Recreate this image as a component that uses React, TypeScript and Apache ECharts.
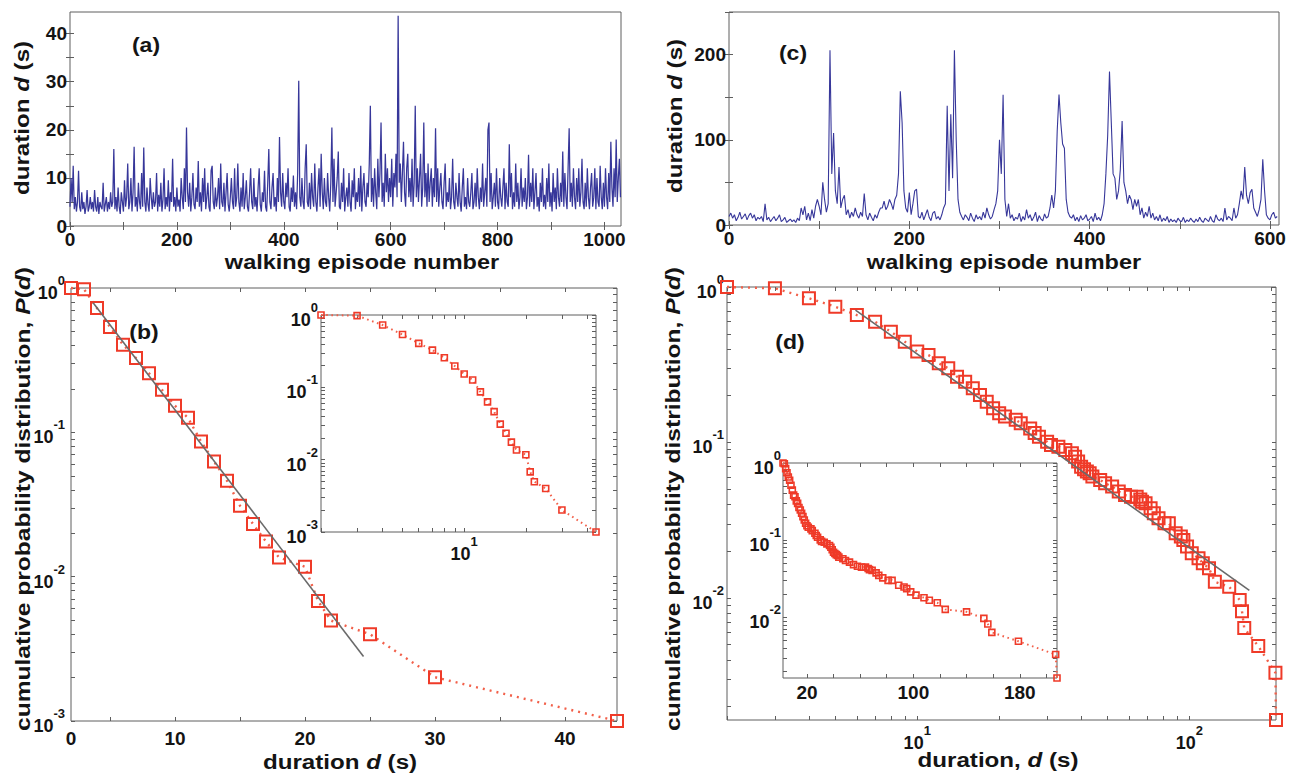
import React, { useEffect, useRef } from "react";
import * as echarts from "echarts";

// ---------------- data ----------------
// (a) durations of walking episodes, one stored sample every A_STEP episodes
const A_STEP = 2;
const A_DURATION = [
  4,10,5,12.5,3.5,6,3,5,11.5,4,3,7,3.5,5,2.5,4,7.5,3,4,6,
  3.5,5,3,7.5,4,3,6,2.5,5,4,3.5,9,3,4.5,6,3,5,3.5,7,4,
  5,16,3.5,6,3,8,4,2.5,7,5,3,9.5,4,6,13,3.5,5,10,3,7,
  16.5,4,6,3,9,5,3.5,11,4,16.3,5,3,8,4.5,3,10,6,3.5,7,4,
  5,11,3,6.5,4,9,3,5.5,12,3.5,6,4,9.5,3,7,5,14,4,6,3,
  8,4,5.5,3,10,6,3.5,12,5,20.5,7,4,9,3,6,11,4.5,3.5,8,5,
  13.5,4,7,3,10,5,12,3.5,6,9,4,3,11.5,12.5,5,3.5,8,4,6,10,
  3.5,13,5,4,9,3,7,11,4.5,3,6,10,5,3.5,12,4,6,13,5,3,
  8,4,11,3.5,6,9.5,4,3,7,12,5,3.5,10,4,6,3,8,12,4.5,3,
  7,5,11.5,4,3,9,16,5,3.5,8,11,4,6,3,10,5,18.5,7,4,11,
  5,3.5,9,6,12,4,3,8,5,10.5,4,7,3.5,11,30.2,6,4,10,5,3.5,
  12,17,5,4,9,3.5,11,6,4,13,5,3,8,12,4,15,7,3.5,10,5,
  4,11,6,3,9,20.5,5,14,4,7,10,15.5,4,3.5,9,5,12,3,6,8,
  4,11,5,3,9.5,6,12,3.5,7,5,10,4,12.5,3,8,11,5,4,9,6,
  13,25,5,10,4,12,7,3.5,14,6,11,21.5,5,9,4,15,7,12,5,10,
  6,14,4,11,8,15,6,43.7,9,13,5,11,17.5,7,4,12,15,6,10,5,
  14,4,9,25,6,12,5,10,15,4,8,21.5,6,11,4,13,5,9,12,4,
  10,6,20.3,5,12,4,8,11,5,3.5,9,13,4,7,5,10,3.5,6,14,5,
  3.5,9,6,4,11,5,3,8,12,4,6,3.5,10,5,4,7,11,3.5,5,9,
  4,12,6,3.5,8,5,13,4,7,10,4,20,21.5,5,11,3.5,6,9,4,12,
  5,3.5,10,6,4,8,12,3.5,9,5,4,17,6,11,3.5,7,4,13,5,9,
  3.5,6,12,4,8,5,10,3.5,6,14.8,4,9,5,12,3.5,7,11,4,6,3,
  9,5,12,4,6.5,3.5,10,5,13,4,7,3,11,5,8,3.5,12,6,4,9,
  5,15.5,4,11,6,3.5,12,20.3,5,9,4,12,6,3.5,10,5,12,4,7,14,
  5,3.5,9,4,12,6,3.5,8,11,4,6,12,3.5,10,5,4,12.5,6,3.5,9,
  4,12,6,3.5,11,5,17.5,8,4,12,6,18,5,10,14,6,
];

// (c) durations of walking episodes, one stored sample every C_STEP episodes
const C_STEP = 2;
const C_DURATION = [
  10,14,8,12,5,9,15,7,10,13,6,11,14,8,12,5,9,7,10,4,
  25,6,9,4,7,10,5,8,12,4,6,9,3,5,7,4,6,3,8,5,
  20,12,22,6,14,5,18,8,22,30,22,12,50,30,15,25,205,60,108,40,
  25,68,20,30,35,12,18,8,15,10,20,12,8,15,10,37,12,6,14,9,
  5,12,8,15,20,20,28,18,22,30,25,18,30,35,60,157,120,40,20,15,
  38,12,25,40,42,10,8,15,6,12,18,9,5,14,16,7,10,6,12,20,
  25,140,40,130,55,205,100,30,15,10,6,12,9,5,14,8,4,12,7,10,
  6,15,8,20,12,7,10,18,25,40,100,60,153,30,10,25,8,12,5,9,
  7,14,4,10,6,18,8,12,5,9,15,4,11,7,5,13,8,10,20,35,
  20,40,110,153,120,95,90,30,15,10,8,12,5,9,4,11,6,8,12,5,
  7,10,4,14,6,9,5,12,25,60,105,180,120,60,55,30,40,65,122,50,
  40,25,35,30,18,30,22,30,12,20,8,15,10,22,8,14,6,10,5,12,
  4,8,5,10,3,7,4,6,3,8,5,4,9,3,6,4,8,5,3,7,
  4,9,5,3,8,6,4,10,5,3,12,7,5,8,4,20,6,10,8,5,
  20,8,12,25,40,30,68,35,25,38,42,20,15,10,18,30,77,40,12,8,
  6,12,15,8,10,
];

// (b) cumulative distribution of (a)
const B_D = [2,3,4,5,6,7,8,9,10,11,12,13,14,15,16,17,18,20,21,22,25,30,44];
const B_P = [1,0.98,0.726,0.537,0.405,0.327,0.257,0.197,0.153,0.126,0.0865,0.0629,0.0462,0.031,0.0232,0.0175,0.0136,0.0117,0.00679,0.00496,0.00399,0.00201,0.001];
const B_FIT_D = [3.7, 24.5];
const B_FIT_P = [0.79, 0.0028];

// (d) cumulative distribution of (c)
const D_D = [2,3,4,5,6,7,8,9,10,11,12,13,14,15,16,17,18,19,20,21,23,24,26,27,28,30,31,33,35,37,38,39,40,41,42,43,44,47,49,52,55,58,61,64,66,67,69,72,74,77,81,84,89,93,95,98,102,108,112,118,124,140,153,156,159,179,207,208];
const D_P = [1,0.98,0.846,0.747,0.66,0.598,0.516,0.445,0.384,0.365,0.323,0.3,0.265,0.246,0.223,0.202,0.183,0.166,0.154,0.147,0.14,0.133,0.123,0.115,0.109,0.101,0.0964,0.094,0.0895,0.0852,0.081,0.0753,0.0699,0.0672,0.065,0.0633,0.0603,0.0574,0.0546,0.052,0.0483,0.0459,0.0448,0.0448,0.043,0.0416,0.0406,0.0377,0.035,0.0325,0.0302,0.0302,0.0261,0.0248,0.0236,0.0214,0.0194,0.018,0.0167,0.0155,0.0127,0.0118,0.0097,0.0082,0.0064,0.0049,0.0033,0.00164];
const D_FIT_D = [5.93, 166];
const D_FIT_P = [0.711, 0.0112];

// tick labels
const A_X_LABELS = [0, 200, 400, 600, 800, 1000];
const A_Y_LABELS = [0, 10, 20, 30, 40];
const C_X_LABELS = [0, 200, 400, 600];
const C_Y_LABELS = [0, 100, 200];
const B_X_LABELS = [10, 20, 30, 40];
const B_Y_LABELS = [0.001, 0.01, 0.1, 1];
const D_X_LABELS = [10, 100];
const D_Y_LABELS = [0.01, 0.1, 1];
const IB_X_LABELS = [10];
const ID_X_LABELS = [20, 100, 180];

// ---------------- styling ----------------
const FONT = '"Liberation Sans", Arial, Helvetica, sans-serif';
const TEXT = "#141414";
const AXIS_COLOR = "#5e5e5e";
const BLUE = "#37379a";
const RED = "#ef3a28";
const DOT_RED = "#f2604a";
const FIT = "#6a6a6a";

const SUP_RICH = {
  b: { fontSize: 18, fontWeight: "bold", fontFamily: FONT, color: TEXT, lineHeight: 28, verticalAlign: "bottom" },
  s: { fontSize: 13, fontWeight: "bold", fontFamily: FONT, color: TEXT, lineHeight: 13, verticalAlign: "top" },
};

function linTicks(min: number, max: number, step: number) {
  const out: number[] = [];
  for (let v = min; v <= max + 1e-9; v += step) out.push(+v.toFixed(6));
  return out;
}
function logTicks(min: number, max: number) {
  const out: number[] = [];
  for (let e = -4; e <= 3; e++) {
    for (let k = 1; k <= 9; k++) {
      const v = +(k * Math.pow(10, e)).toPrecision(6);
      if (v >= min * 0.99999 && v <= max * 1.00001) out.push(v);
    }
  }
  return out;
}
const pow10 = (v: number) => `{b|10}{s|${Math.round(Math.log10(v))}}`;

interface AxisDef {
  type: "value" | "log";
  min: number;
  max: number;
  ticks: number[];
  labels: number[];
  format: (v: number) => string;
  margin: number;
  rich?: boolean;
  fontSize?: number;
}

function makeAxes(dim: "x" | "y", gridIndex: number, def: AxisDef) {
  const base: any = {
    gridIndex,
    type: def.type,
    min: def.min,
    max: def.max,
    axisLine: { show: false },
    splitLine: { show: false },
    minorTick: { show: false },
    axisTick: {
      show: true,
      inside: true,
      length: 4,
      lineStyle: { color: AXIS_COLOR, width: 1 },
      customValues: def.ticks,
    },
  };
  if (def.type === "log") base.logBase = 10;
  const label: any = {
    show: true,
    customValues: def.labels,
    formatter: (v: number) => def.format(v),
    margin: def.margin,
    color: TEXT,
    fontSize: def.fontSize ?? 19,
    fontWeight: "bold",
    fontFamily: FONT,
    showMinLabel: true,
    showMaxLabel: true,
    hideOverlap: false,
  };
  if (def.rich) label.rich = SUP_RICH;
  return [
    { ...base, position: dim === "x" ? "bottom" : "left", axisLabel: label },
    { ...base, position: dim === "x" ? "top" : "right", axisLabel: { show: false } },
  ];
}

function makeGrid(left: number, top: number, width: number, height: number, bg?: string) {
  return {
    left, top, width, height,
    show: true,
    borderColor: AXIS_COLOR,
    borderWidth: 1,
    backgroundColor: bg ?? "transparent",
    containLabel: false,
    outerBoundsMode: "none",
  };
}

function text(
  t: string,
  x: number,
  y: number,
  size: number,
  opts: { rotate?: boolean; scaleX?: number; rich?: any } = {}
) {
  return {
    type: "text",
    x,
    y,
    rotation: opts.rotate ? Math.PI / 2 : 0,
    scaleX: opts.scaleX ?? 1,
    silent: true,
    style: {
      text: t,
      fontSize: size,
      fontWeight: "bold",
      fontFamily: FONT,
      fill: TEXT,
      align: "center",
      verticalAlign: "middle",
      rich: opts.rich,
    },
  };
}

const NAME_RICH = (size: number) => ({
  n: { fontSize: size, fontWeight: "bold", fontFamily: FONT, fill: TEXT, color: TEXT },
  i: { fontSize: size, fontWeight: "bold", fontStyle: "italic", fontFamily: FONT, fill: TEXT, color: TEXT },
});

function buildOption() {
  const B_X_MIN = 2;
  const D_Y_MIN = 0.00164;

  const panels: { grid: any; x: AxisDef; y: AxisDef }[] = [
    // 0: (a)
    {
      grid: makeGrid(70, 12, 551, 214),
      x: { type: "value", min: 0, max: 1031, ticks: linTicks(0, 1000, 100), labels: A_X_LABELS, format: (v) => String(v), margin: 4 },
      y: { type: "value", min: 0, max: 44.5, ticks: linTicks(0, 40, 5), labels: A_Y_LABELS, format: (v) => String(v), margin: 3 },
    },
    // 1: (c)
    {
      grid: makeGrid(729, 12, 550, 213),
      x: { type: "value", min: 0, max: 610, ticks: linTicks(0, 600, 100), labels: C_X_LABELS, format: (v) => String(v), margin: 4 },
      y: { type: "value", min: 0, max: 250, ticks: linTicks(0, 250, 50), labels: C_Y_LABELS, format: (v) => String(v), margin: 3 },
    },
    // 2: (b)
    {
      grid: makeGrid(71, 288, 546, 433),
      x: { type: "value", min: B_X_MIN, max: 44, ticks: linTicks(5, 40, 5), labels: [B_X_MIN, ...B_X_LABELS], format: (v) => (v === B_X_MIN ? "0" : String(v)), margin: 8 },
      y: { type: "log", min: 0.001, max: 1, ticks: logTicks(0.001, 1), labels: B_Y_LABELS, format: pow10, margin: 6, rich: true },
    },
    // 3: (d)
    {
      grid: makeGrid(727, 287, 549, 433),
      x: { type: "log", min: 2, max: 208, ticks: logTicks(2, 208), labels: D_X_LABELS, format: pow10, margin: 4, rich: true },
      y: { type: "log", min: D_Y_MIN, max: 1, ticks: logTicks(D_Y_MIN, 1), labels: D_Y_LABELS, format: pow10, margin: 3, rich: true },
    },
    // 4: inset of (b)
    {
      grid: makeGrid(321, 315, 275, 217, "#ffffff"),
      x: { type: "log", min: 2, max: 44, ticks: logTicks(2, 44), labels: IB_X_LABELS, format: pow10, margin: 3, rich: true },
      y: { type: "log", min: 0.001, max: 1, ticks: logTicks(0.001, 1), labels: B_Y_LABELS, format: pow10, margin: 3, rich: true },
    },
    // 5: inset of (d)
    {
      grid: makeGrid(783, 463, 274, 215, "#ffffff"),
      x: { type: "value", min: 2, max: 208, ticks: linTicks(20, 200, 20), labels: ID_X_LABELS, format: (v) => String(v), margin: 5 },
      y: { type: "log", min: D_Y_MIN, max: 1, ticks: logTicks(D_Y_MIN, 1), labels: [1, 0.1, 0.01], format: pow10, margin: 2, rich: true },
    },
  ];

  const grid = panels.map((p) => p.grid);
  const xAxis: any[] = [];
  const yAxis: any[] = [];
  panels.forEach((p, i) => {
    xAxis.push(...makeAxes("x", i, p.x));
    yAxis.push(...makeAxes("y", i, p.y));
  });

  const ax = (panel: number) => ({ xAxisIndex: panel * 2, yAxisIndex: panel * 2 });
  const pairs = (xs: number[], ys: number[]) => xs.map((x, i) => [x, ys[i]]);

  const markerSeries = (panel: number, xs: number[], ys: number[], size: number, bw: number, lw: number, dash: number[]) => ({
    type: "line",
    ...ax(panel),
    data: pairs(xs, ys),
    symbol: "rect",
    symbolSize: size,
    showSymbol: true,
    clip: false,
    itemStyle: { color: "rgba(255,255,255,0)", borderColor: RED, borderWidth: bw },
    lineStyle: { color: DOT_RED, width: lw, type: dash },
    silent: true,
    z: 3,
  });
  const fitSeries = (panel: number, xs: number[], ys: number[]) => ({
    type: "line",
    ...ax(panel),
    data: pairs(xs, ys),
    symbol: "none",
    lineStyle: { color: FIT, width: 1.6 },
    silent: true,
    z: 4,
  });

  const series: any[] = [
    {
      type: "line",
      ...ax(0),
      data: A_DURATION.map((v, i) => [i * A_STEP, v]),
      symbol: "none",
      lineStyle: { color: BLUE, width: 1.25 },
      silent: true,
    },
    {
      type: "line",
      ...ax(1),
      data: C_DURATION.map((v, i) => [i * C_STEP, v]),
      symbol: "none",
      lineStyle: { color: BLUE, width: 1.1 },
      silent: true,
    },
    markerSeries(2, B_D, B_P, 12, 2, 2.4, [2, 5]),
    fitSeries(2, B_FIT_D, B_FIT_P),
    markerSeries(3, D_D, D_P, 12, 2, 2.4, [2, 5]),
    fitSeries(3, D_FIT_D, D_FIT_P),
    markerSeries(4, B_D, B_P, 6, 1.6, 2, [1.6, 3.6]),
    markerSeries(5, D_D, D_P, 6, 1.6, 2, [1.6, 3.6]),
  ];

  const R21 = NAME_RICH(21);
  const graphic = [
    text("(a)", 146, 45, 20, { scaleX: 1.15 }),
    text("(c)", 793, 53, 20, { scaleX: 1.15 }),
    text("(b)", 144, 332, 20, { scaleX: 1.15 }),
    text("(d)", 790, 342, 20, { scaleX: 1.15 }),
    text("walking episode number", 362, 262, 21, { scaleX: 1.12 }),
    text("walking episode number", 1004, 262, 21, { scaleX: 1.12 }),
    text("{n|duration }{i|d}{n| (s)}", 22, 118, 21, { rotate: true, scaleX: 1.15, rich: R21 }),
    text("{n|duration }{i|d}{n| (s)}", 675, 116, 21, { rotate: true, scaleX: 1.15, rich: R21 }),
    text("{n|duration }{i|d}{n| (s)}", 340, 762, 21, { scaleX: 1.15, rich: R21 }),
    text("{n|duration, }{i|d}{n| (s)}", 998, 760, 21, { scaleX: 1.15, rich: R21 }),
    text("{n|cumulative probability distribution, }{i|P}{n|(}{i|d}{n|)}", 23, 499, 21, { rotate: true, scaleX: 1.17, rich: R21 }),
    text("{n|cumulative probability distribution, }{i|P}{n|(}{i|d}{n|)}", 673, 499, 21, { rotate: true, scaleX: 1.17, rich: R21 }),
  ];

  return {
    animation: false,
    backgroundColor: "#ffffff",
    grid,
    xAxis,
    yAxis,
    series,
    graphic: { elements: graphic },
  };
}

export default function App() {
  const ref = useRef<HTMLDivElement>(null);
  useEffect(() => {
    if (!ref.current) return;
    const chart = echarts.init(ref.current, null, { renderer: "svg" });
    chart.setOption(buildOption() as any);
    return () => chart.dispose();
  }, []);
  return (
    <div
      ref={ref}
      style={{ position: "fixed", left: 0, top: 0, width: 1296, height: 777, background: "#fff" }}
    />
  );
}
